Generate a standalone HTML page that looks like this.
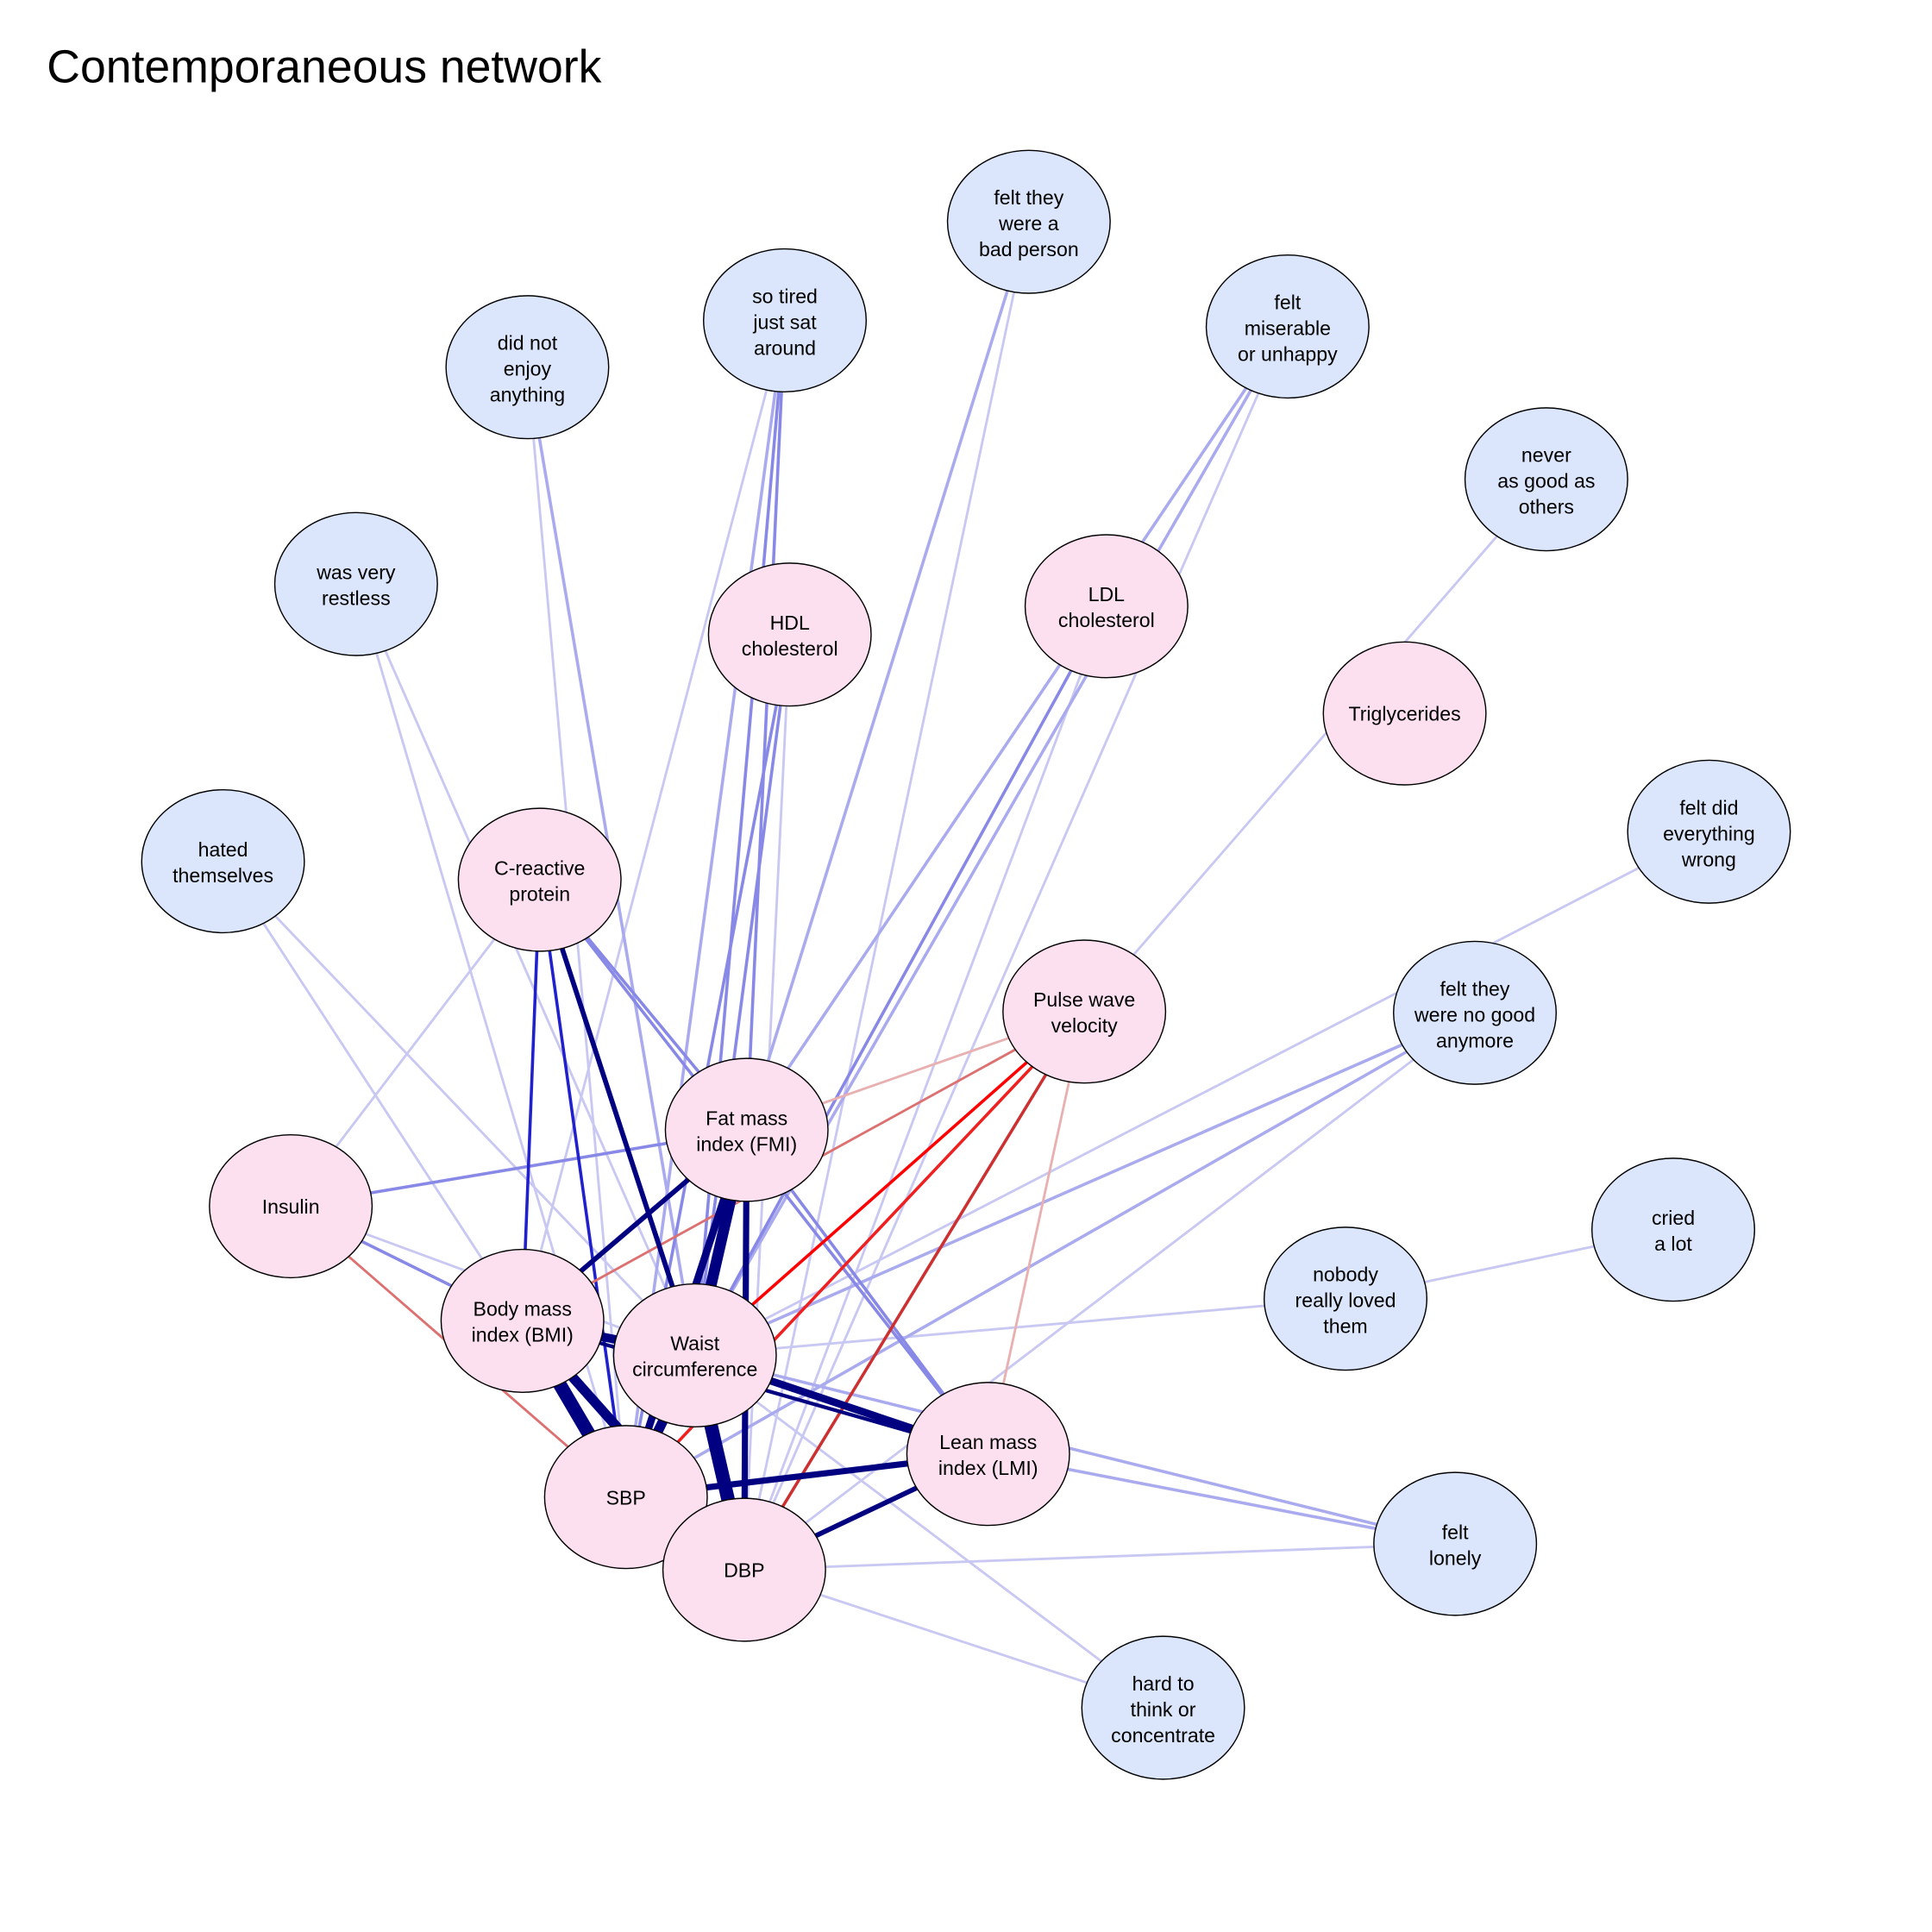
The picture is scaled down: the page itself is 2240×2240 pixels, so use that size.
<!DOCTYPE html>
<html><head><meta charset="utf-8"><style>html,body{margin:0;padding:0;background:#fff}svg{display:block}</style></head><body>
<svg width="2240" height="2240" viewBox="0 0 1568 1568" xmlns="http://www.w3.org/2000/svg" font-family="Liberation Sans, Arial, sans-serif">
<rect width="1568" height="1568" fill="#fff"/>
<text x="38" y="67" font-size="37.5">Contemporaneous network</text>
<g fill="none" stroke-linecap="round">
<g stroke="#c8c8f2" stroke-width="2">
<line x1="835" y1="180" x2="604" y2="1274"/>
<line x1="637" y1="260" x2="424" y2="1072"/>
<line x1="428" y1="298" x2="508" y2="1215"/>
<line x1="1045" y1="265" x2="604" y2="1274"/>
<line x1="1255" y1="389" x2="880" y2="821"/>
<line x1="289" y1="474" x2="508" y2="1215"/>
<line x1="289" y1="474" x2="564" y2="1100"/>
<line x1="181" y1="699" x2="564" y2="1100"/>
<line x1="181" y1="699" x2="424" y2="1072"/>
<line x1="1387" y1="675" x2="564" y2="1100"/>
<line x1="1197" y1="822" x2="604" y2="1274"/>
<line x1="1358" y1="998" x2="1092" y2="1054"/>
<line x1="1092" y1="1054" x2="564" y2="1100"/>
<line x1="1181" y1="1253" x2="604" y2="1274"/>
<line x1="944" y1="1386" x2="604" y2="1274"/>
<line x1="944" y1="1386" x2="564" y2="1100"/>
<line x1="438" y1="714" x2="236" y2="979"/>
<line x1="236" y1="979" x2="564" y2="1100"/>
<line x1="898" y1="492" x2="604" y2="1274"/>
<line x1="641" y1="515" x2="604" y2="1274"/>
</g>
<g stroke="#aaaaee" stroke-width="2.5">
<line x1="835" y1="180" x2="606" y2="917"/>
<line x1="428" y1="298" x2="564" y2="1100"/>
<line x1="1197" y1="822" x2="564" y2="1100"/>
<line x1="1197" y1="822" x2="508" y2="1215"/>
<line x1="1181" y1="1253" x2="802" y2="1180"/>
<line x1="1181" y1="1253" x2="564" y2="1100"/>
<line x1="1045" y1="265" x2="606" y2="917"/>
<line x1="1045" y1="265" x2="564" y2="1100"/>
<line x1="637" y1="260" x2="508" y2="1215"/>
</g>
<g stroke="#8888e6" stroke-width="2.5">
<line x1="637" y1="260" x2="606" y2="917"/>
<line x1="637" y1="260" x2="564" y2="1100"/>
<line x1="641" y1="515" x2="508" y2="1215"/>
<line x1="641" y1="515" x2="564" y2="1100"/>
<line x1="898" y1="492" x2="564" y2="1100"/>
<line x1="438" y1="714" x2="606" y2="917"/>
<line x1="438" y1="714" x2="802" y2="1180"/>
<line x1="236" y1="979" x2="606" y2="917"/>
<line x1="236" y1="979" x2="424" y2="1072"/>
<line x1="606" y1="917" x2="802" y2="1180"/>
</g>
<g stroke="#2020cc" stroke-width="2.5">
<line x1="438" y1="714" x2="424" y2="1072"/>
<line x1="438" y1="714" x2="508" y2="1215"/>
</g>
<line x1="880" y1="821" x2="606" y2="917" stroke="#e8b0b0" stroke-width="2"/>
<line x1="880" y1="821" x2="802" y2="1180" stroke="#e8b0b0" stroke-width="2"/>
<line x1="880" y1="821" x2="424" y2="1072" stroke="#dd7070" stroke-width="2"/>
<line x1="236" y1="979" x2="508" y2="1215" stroke="#dd7070" stroke-width="2"/>
<line x1="606" y1="917" x2="424" y2="1072" stroke="#e08080" stroke-width="2"/>
<line x1="880" y1="821" x2="564" y2="1100" stroke="#ff0000" stroke-width="2.5"/>
<line x1="880" y1="821" x2="508" y2="1215" stroke="#ee2020" stroke-width="2.5"/>
<line x1="880" y1="821" x2="604" y2="1274" stroke="#cc3030" stroke-width="2.5"/>
<g stroke="#000080">
<line x1="438" y1="714" x2="564" y2="1100" stroke-width="4"/>
<line x1="606" y1="917" x2="424" y2="1072" stroke-width="4"/>
<line x1="606" y1="917" x2="564" y2="1100" stroke-width="9"/>
<line x1="606" y1="917" x2="508" y2="1215" stroke-width="6"/>
<line x1="606" y1="917" x2="604" y2="1274" stroke-width="5"/>
<line x1="424" y1="1072" x2="564" y2="1100" stroke-width="7"/>
<line x1="424" y1="1072" x2="508" y2="1215" stroke-width="11"/>
<line x1="424" y1="1072" x2="604" y2="1274" stroke-width="8"/>
<line x1="424" y1="1072" x2="802" y2="1180" stroke-width="3"/>
<line x1="564" y1="1100" x2="508" y2="1215" stroke-width="8"/>
<line x1="564" y1="1100" x2="604" y2="1274" stroke-width="11"/>
<line x1="564" y1="1100" x2="802" y2="1180" stroke-width="6"/>
<line x1="802" y1="1180" x2="508" y2="1215" stroke-width="5"/>
<line x1="802" y1="1180" x2="604" y2="1274" stroke-width="4"/>
</g>
</g>
<g stroke="#000" stroke-width="1" font-size="16.2" text-anchor="middle">
<g fill="#dbe6fc">
<ellipse cx="835" cy="180" rx="66" ry="58"/>
<ellipse cx="637" cy="260" rx="66" ry="58"/>
<ellipse cx="428" cy="298" rx="66" ry="58"/>
<ellipse cx="1045" cy="265" rx="66" ry="58"/>
<ellipse cx="1255" cy="389" rx="66" ry="58"/>
<ellipse cx="289" cy="474" rx="66" ry="58"/>
<ellipse cx="181" cy="699" rx="66" ry="58"/>
<ellipse cx="1387" cy="675" rx="66" ry="58"/>
<ellipse cx="1197" cy="822" rx="66" ry="58"/>
<ellipse cx="1358" cy="998" rx="66" ry="58"/>
<ellipse cx="1092" cy="1054" rx="66" ry="58"/>
<ellipse cx="1181" cy="1253" rx="66" ry="58"/>
<ellipse cx="944" cy="1386" rx="66" ry="58"/>
</g>
<g fill="#fce0ef">
<ellipse cx="641" cy="515" rx="66" ry="58"/>
<ellipse cx="898" cy="492" rx="66" ry="58"/>
<ellipse cx="1140" cy="579" rx="66" ry="58"/>
<ellipse cx="438" cy="714" rx="66" ry="58"/>
<ellipse cx="880" cy="821" rx="66" ry="58"/>
<ellipse cx="606" cy="917" rx="66" ry="58"/>
<ellipse cx="236" cy="979" rx="66" ry="58"/>
<ellipse cx="424" cy="1072" rx="66" ry="58"/>
<ellipse cx="564" cy="1100" rx="66" ry="58"/>
<ellipse cx="802" cy="1180" rx="66" ry="58"/>
<ellipse cx="508" cy="1215" rx="66" ry="58"/>
<ellipse cx="604" cy="1274" rx="66" ry="58"/>
</g>
<g fill="#000" stroke="none">
<text x="835" y="166">felt they</text><text x="835" y="187">were a</text><text x="835" y="208">bad person</text>
<text x="637" y="246">so tired</text><text x="637" y="267">just sat</text><text x="637" y="288">around</text>
<text x="428" y="284">did not</text><text x="428" y="305">enjoy</text><text x="428" y="326">anything</text>
<text x="1045" y="251">felt</text><text x="1045" y="272">miserable</text><text x="1045" y="293">or unhappy</text>
<text x="1255" y="375">never</text><text x="1255" y="396">as good as</text><text x="1255" y="417">others</text>
<text x="289" y="470">was very</text><text x="289" y="491">restless</text>
<text x="181" y="695">hated</text><text x="181" y="716">themselves</text>
<text x="1387" y="661">felt did</text><text x="1387" y="682">everything</text><text x="1387" y="703">wrong</text>
<text x="1197" y="808">felt they</text><text x="1197" y="829">were no good</text><text x="1197" y="850">anymore</text>
<text x="1358" y="994">cried</text><text x="1358" y="1015">a lot</text>
<text x="1092" y="1040">nobody</text><text x="1092" y="1061">really loved</text><text x="1092" y="1082">them</text>
<text x="1181" y="1249">felt</text><text x="1181" y="1270">lonely</text>
<text x="944" y="1372">hard to</text><text x="944" y="1393">think or</text><text x="944" y="1414">concentrate</text>
<text x="641" y="511">HDL</text><text x="641" y="532">cholesterol</text>
<text x="898" y="488">LDL</text><text x="898" y="509">cholesterol</text>
<text x="1140" y="585">Triglycerides</text>
<text x="438" y="710">C-reactive</text><text x="438" y="731">protein</text>
<text x="880" y="817">Pulse wave</text><text x="880" y="838">velocity</text>
<text x="606" y="913">Fat mass</text><text x="606" y="934">index (FMI)</text>
<text x="236" y="985">Insulin</text>
<text x="424" y="1068">Body mass</text><text x="424" y="1089">index (BMI)</text>
<text x="564" y="1096">Waist</text><text x="564" y="1117">circumference</text>
<text x="802" y="1176">Lean mass</text><text x="802" y="1197">index (LMI)</text>
<text x="508" y="1221">SBP</text>
<text x="604" y="1280">DBP</text>
</g>
</g>
</svg>
</body></html>
